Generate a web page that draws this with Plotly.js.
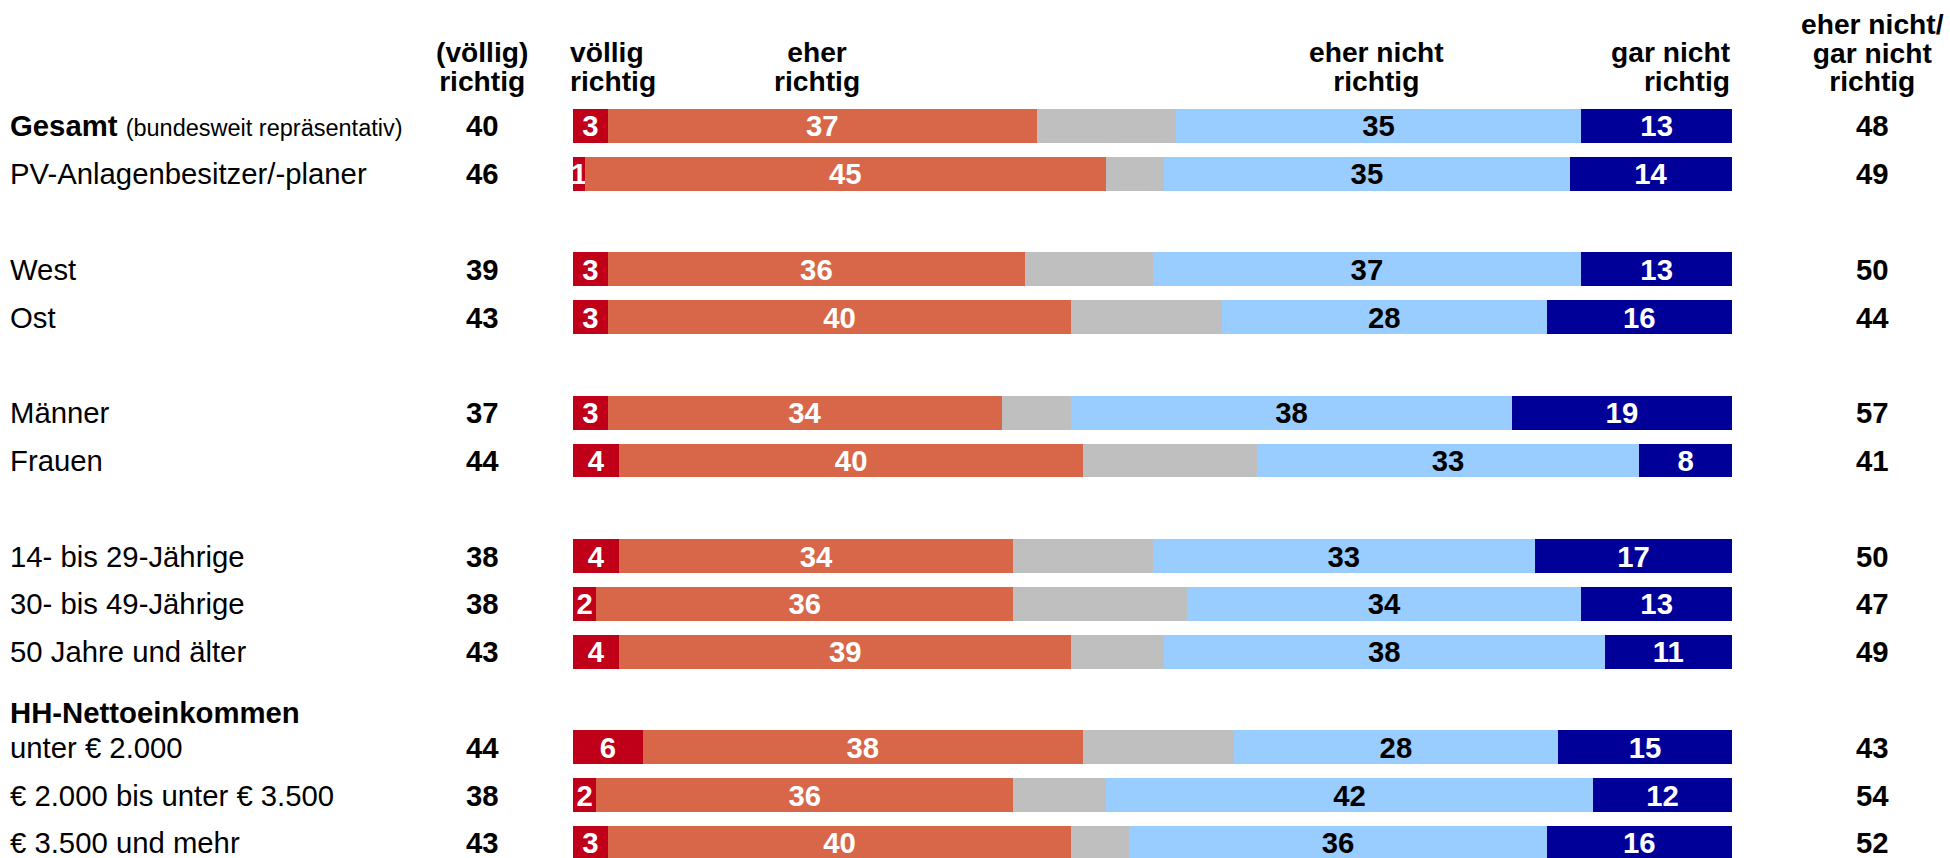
<!DOCTYPE html>
<html><head><meta charset="utf-8">
<script src="https://cdn.plot.ly/plotly-3.0.1.min.js"></script>
<style>html,body{margin:0;padding:0;background:#fff;overflow:hidden;} #chart{width:1950px;height:858px;}</style>
</head><body><div id="chart"></div>
<script>
// ---- data ----
const rowLabels = ["Gesamt", "PV-Anlagenbesitzer/-planer", "West", "Ost", "Männer", "Frauen",
  "14- bis 29-Jährige", "30- bis 49-Jährige", "50 Jahre und älter",
  "unter € 2.000", "€ 2.000 bis unter € 3.500", "€ 3.500 und mehr"];
const rowGroups = [0, 0, 1, 1, 2, 2, 3, 3, 3, 4, 4, 4];
const gesamtNote = "(bundesweit repräsentativ)";
const incomeHeading = "HH-Nettoeinkommen";

const voelligRichtig   = [3, 1, 3, 3, 3, 4, 4, 2, 4, 6, 2, 3];
const eherRichtig      = [37, 45, 36, 40, 34, 40, 34, 36, 39, 38, 36, 40];
const keineAngabe      = [12, 5, 11, 13, 6, 15, 12, 15, 8, 13, 8, 5];
const eherNichtRichtig = [35, 35, 37, 28, 38, 33, 33, 34, 38, 28, 42, 36];
const garNichtRichtig  = [13, 14, 13, 16, 19, 8, 17, 13, 11, 15, 12, 16];
const summeRichtig      = [40, 46, 39, 43, 37, 44, 38, 38, 43, 44, 38, 43];
const summeNichtRichtig = [48, 49, 50, 44, 57, 41, 50, 47, 49, 43, 54, 52];

const headerSummeRichtig = ["(völlig)", "richtig"];
const headerVoellig      = ["völlig", "richtig"];
const headerEher         = ["eher", "richtig"];
const headerEherNicht    = ["eher nicht", "richtig"];
const headerGarNicht     = ["gar nicht", "richtig"];
const headerSummeNicht   = ["eher nicht/", "gar nicht", "richtig"];

// ---- layout helpers ----
const FONT = 'Arial, "Liberation Sans", sans-serif';
const FS = 29.3;       // row labels and numbers
const FS_HEAD = 28.2;  // column headers
const W = 1950, H = 858, ML = 573, MR = 218, MT = 102, MB = 0;
const plotW = W - ML - MR, plotH = H - MT - MB;
const px2x = p => (p - ML) / plotW;
const py2y = p => (H - MB - p) / plotH;
const yPos = rowLabels.map((_, i) => i + rowGroups[i]);

function seg(name, vals, color, textColor, showText) {
  const t = {
    type: 'bar', orientation: 'h', name: name, x: vals, y: yPos,
    marker: {color: color, line: {width: 0}},
    hoverinfo: 'skip', showlegend: false
  };
  if (showText) {
    t.texttemplate = '%{x}';
    t.textposition = 'inside';
    t.insidetextanchor = 'middle';
    t.textangle = 0;
    t.constraintext = 'none';
    t.insidetextfont = {family: FONT, size: FS, color: textColor, weight: 700};
  } else {
    t.textposition = 'none';
  }
  return t;
}

const traces = [
  seg('völlig richtig', voelligRichtig, '#C00018', '#FFFFFF', true),
  seg('eher richtig', eherRichtig, '#D86749', '#FFFFFF', true),
  seg('keine Angabe', keineAngabe, '#BFBFBF', '#000000', false),
  seg('eher nicht richtig', eherNichtRichtig, '#99CCFF', '#000000', true),
  seg('gar nicht richtig', garNichtRichtig, '#000099', '#FFFFFF', true)
];

const ann = [];
function addText(text, xpx, ypaper, anchor, size, bold, yref) {
  ann.push({
    text: text, xref: 'paper', x: px2x(xpx), xanchor: anchor,
    yref: yref || 'paper', y: ypaper, yanchor: 'middle',
    showarrow: false, align: anchor === 'right' ? 'right' : (anchor === 'left' ? 'left' : 'center'),
    font: {family: FONT, size: size, color: '#000000', weight: bold ? 700 : 400}
  });
}

// row labels and side numbers
rowLabels.forEach((lab, i) => {
  const txt = i === 0
    ? '<b>' + lab + '</b> <span style="font-size:23.5px">' + gesamtNote + '</span>'
    : lab;
  addText(txt, 8, yPos[i], 'left', FS, false, 'y');
  addText(String(summeRichtig[i]), 482, yPos[i], 'center', FS, true, 'y');
  addText(String(summeNichtRichtig[i]), 1872, yPos[i], 'center', FS, true, 'y');
});
addText(incomeHeading, 8, yPos[9] - 0.72, 'left', FS, true, 'y');

// column headers: one text block each, tight line pitch
const LINE_PITCH = 28.6;
const HEADER_BASE = LINE_PITCH / 1.3; // Plotly line spacing is 1.3 em of the base size
const lastLineCentre = 81;             // px from top
function header(lines, xpx, anchor) {
  const n = lines.length;
  const txt = lines.map(l => '<span style="font-size:' + FS_HEAD + 'px">' + l + '</span>').join('<br>');
  const centrePx = lastLineCentre - (n - 1) * LINE_PITCH / 2;
  addText(txt, xpx, py2y(centrePx), anchor, HEADER_BASE, true);
}
header(headerSummeRichtig, 482, 'center');
header(headerVoellig, 568, 'left');
header(headerEher, 817, 'center');
header(headerEherNicht, 1376, 'center');
header(headerGarNicht, 1733, 'right');
header(headerSummeNicht, 1872, 'center');

const layout = {
  width: W, height: H,
  margin: {l: ML, r: MR, t: MT, b: MB, pad: 0},
  paper_bgcolor: '#FFFFFF', plot_bgcolor: '#FFFFFF',
  barmode: 'stack', bargap: 0.295,
  showlegend: false,
  xaxis: {range: [0, 100], visible: false, fixedrange: true},
  // row pitch 47.8 px, first row centred at ~126 px
  yaxis: {range: [-0.5 + plotH / 47.8, -0.5], visible: false, fixedrange: true},
  annotations: ann,
  font: {family: FONT, color: '#000000'}
};

Plotly.newPlot('chart', traces, layout, {displayModeBar: false, staticPlot: true});
</script>
</body></html>
